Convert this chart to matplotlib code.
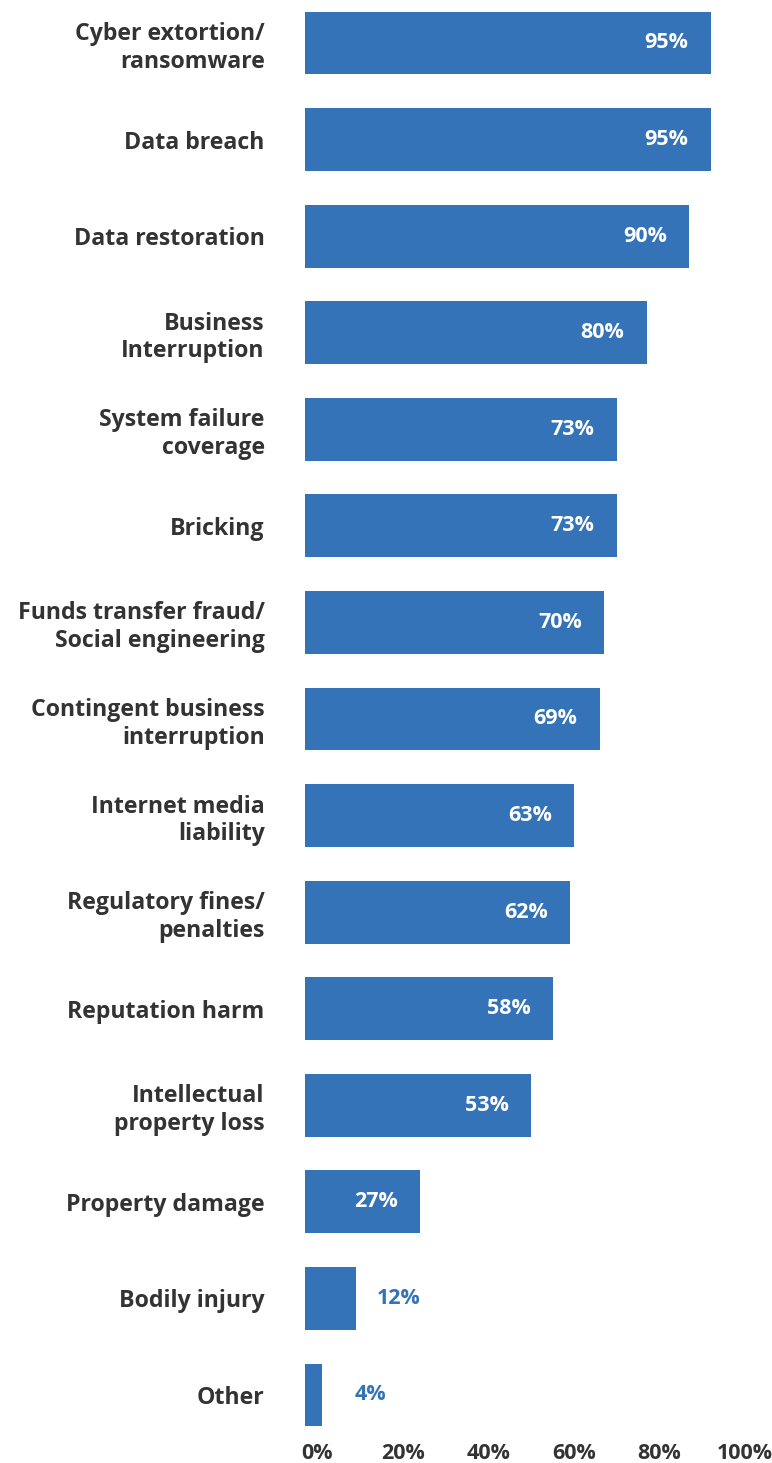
import matplotlib
matplotlib.use("Agg")
import matplotlib.pyplot as plt
from matplotlib.transforms import ScaledTranslation

# Coverage types offered, share of respondents (%)
categories = [
    "Cyber extortion/\nransomware",
    "Data breach",
    "Data restoration",
    "Business\nInterruption",
    "System failure\ncoverage",
    "Bricking",
    "Funds transfer fraud/\nSocial engineering",
    "Contingent business\ninterruption",
    "Internet media\nliability",
    "Regulatory fines/\npenalties",
    "Reputation harm",
    "Intellectual\nproperty loss",
    "Property damage",
    "Bodily injury",
    "Other",
]
values = [95, 95, 90, 80, 73, 73, 70, 69, 63, 62, 58, 53, 27, 12, 4]
tick_values = [0, 20, 40, 60, 80, 100]
tick_labels = ["0%", "20%", "40%", "60%", "80%", "100%"]

BLUE = "#3573b8"
DARK = "#333333"
FONT = ["Open Sans", "DejaVu Sans"]

W, H, DPI = 772, 1463, 100
fig = plt.figure(figsize=(W / DPI, H / DPI), dpi=DPI)

# axes placed in pixel terms: x=0 at 305px, x=100 at 732px
ymin, ymax = -0.4, 14.5
unit = (1395 - 43) / 14
top_px = 43 + ymin * unit
bot_px = 1395 + (ymax - 14) * unit
ax = fig.add_axes([305 / W, 1 - bot_px / H, (732 - 305) / W, (bot_px - top_px) / H])

pos = list(range(len(categories)))
ax.barh(pos, values, height=0.65, color=BLUE)
ax.set_xlim(0, 100)
ax.set_ylim(ymax, ymin)

for y, v in zip(pos, values):
    if v >= 20:
        ax.annotate(f"{v}%", (v, y), xytext=(-16, 0), textcoords="offset points",
                    ha="right", va="center", color="white", fontsize=15.5,
                    fontweight="bold", family=FONT)
    else:
        ax.annotate(f"{v}%", (v, y), xytext=(46, 0), textcoords="offset points",
                    ha="right", va="center", color=BLUE, fontsize=15.5,
                    fontweight="bold", family=FONT)

ax.set_yticks(pos)
ax.set_yticklabels(categories, fontsize=16.7, fontweight="bold", color=DARK,
                   family=FONT, linespacing=1.2)
ax.set_xticks(tick_values)
ax.set_xticklabels(tick_labels, fontsize=15.5, fontweight="bold", color=DARK, family=FONT)
ax.tick_params(axis="y", length=0, pad=29)
ax.tick_params(axis="x", length=0, pad=0)

shift = ScaledTranslation(9 / 72, 0, fig.dpi_scale_trans)
for lbl in ax.get_xticklabels():
    lbl.set_transform(lbl.get_transform() + shift)

for s in ax.spines.values():
    s.set_visible(False)

fig.savefig("out.png", dpi=DPI)
